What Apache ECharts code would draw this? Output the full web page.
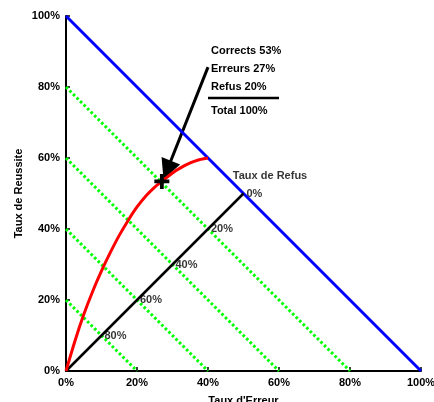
<!DOCTYPE html>
<html><head><meta charset="utf-8">
<script src="https://cdn.jsdelivr.net/npm/echarts@6/dist/echarts.min.js"></script>
<style>html,body{margin:0;padding:0;background:#fff}#c{width:434px;height:402px}</style>
</head><body><div id="c"></div>
<script>
// ---- data ----
var axisTicks = [0, 20, 40, 60, 80, 100];
var limitLine = [[0, 100], [100, 0]];           // Correct + Erreur = 100%
var isoRefus = [20, 40, 60, 80];                 // green dotted iso-lines (x + y = k)
var refusAxis = [[0, 0], [50, 50]];              // "Taux de Refus" axis
var refusTickPos = [[10, 10], [20, 20], [30, 30], [40, 40], [50, 50]];
var refusTickLabels = ['80%', '60%', '40%', '20%', '0%'];
var curveErreur = [0, 2.5, 5, 7.5, 10, 12.5, 15, 17.5, 20, 22.5, 25, 27, 30, 32.5, 35, 37.5, 40];
var curveReussite = [0, 8.4, 15.9, 22.4, 28.2, 33.4, 38.2, 42.4, 46.2, 49.3, 51.8, 53.4, 55.8, 57.35, 58.6, 59.5, 60];
var opPoint = [27, 53.4];
var arrowFrom = [40, 85.6];
var arrowTo = [28.5, 56.6];
var refusTitle = 'Taux de Refus';
var refusTitlePos = [47, 54.9];
var noteLines = ['Corrects 53%', 'Erreurs 27%', 'Refus 20%', 'Total 100%'];

var FONT = "'Liberation Sans', Arial, sans-serif";
var chart = echarts.init(document.getElementById('c'), null, {renderer: 'canvas'});

function lineSeries(data, color, width, type) {
  return {
    type: 'line', data: data, symbol: 'none', silent: true, animation: false,
    lineStyle: {color: color, width: width, type: type || 'solid', cap: 'butt'}
  };
}

var series = [];
isoRefus.forEach(function (k) {
  series.push(lineSeries([[0, k], [k, 0]], '#00ff00', 3, [2.6, 2.4]));
});
series.push(lineSeries(limitLine, '#0000ff', 3));
series.push(lineSeries(refusAxis, '#000000', 2.5));
var curve = curveErreur.map(function (x, i) { return [x, curveReussite[i]]; });
var redS = lineSeries(curve, '#ff0000', 3);
redS.smooth = 0.3;
series.push(redS);
// refus tick labels
series.push({
  type: 'scatter', symbolSize: 0, silent: true, animation: false,
  data: refusTickPos.map(function (p, i) { return {value: p, name: refusTickLabels[i]}; }),
  label: {show: true, position: 'right', distance: 3, formatter: '{b}',
    color: '#000', fontFamily: FONT, fontWeight: 'bold', fontSize: 11}
});
// title of refus axis
series.push({
  type: 'scatter', symbolSize: 0, silent: true, animation: false,
  data: [{value: refusTitlePos, name: refusTitle}],
  label: {show: true, position: 'right', distance: 0, formatter: '{b}',
    color: '#000', fontFamily: FONT, fontWeight: 'bold', fontSize: 11}
});
// arrow
series.push({
  type: 'lines', coordinateSystem: 'cartesian2d', silent: true, animation: false,
  symbol: ['none', 'path://M5,0L10,20L0,20Z'], symbolSize: [9, 20],
  lineStyle: {color: '#000', width: 3, opacity: 1, curveness: 0},
  itemStyle: {color: '#000'},
  data: [{coords: [arrowFrom, arrowTo]}]
});
// operating point
series.push({
  type: 'scatter', silent: true, animation: false, z: 10,
  symbol: 'path://M5.6,0H9.4V5.6H15V9.4H9.4V15H5.6V9.4H0V5.6H5.6Z',
  symbolSize: 15, itemStyle: {color: '#000', opacity: 1},
  data: [opPoint]
});

var noteTops = [45, 63, 81, 105];
var graphics = noteLines.map(function (t, i) {
  return {type: 'text', left: 211, top: noteTops[i], silent: true,
    style: {text: t, fill: '#000', font: 'bold 11px ' + FONT}};
});
graphics.push({type: 'line', silent: true, shape: {x1: 208, y1: 98, x2: 279, y2: 98},
  style: {stroke: '#000', lineWidth: 2.5}});

function axisCommon(name, gap, rot) {
  return {
    type: 'value', min: 0, max: 100, interval: 20,
    name: name, nameLocation: 'middle', nameGap: gap, nameRotate: rot,
    nameTextStyle: {color: '#000', fontFamily: FONT, fontWeight: 'bold', fontSize: 11},
    axisLine: {show: true, onZero: false, lineStyle: {color: '#000', width: 2}},
    axisTick: {show: true, inside: true, length: 4, lineStyle: {color: '#000', width: 1.5}},
    axisLabel: {formatter: '{value}%', color: '#000', fontFamily: FONT, fontWeight: 'bold', fontSize: 11, margin: 6},
    splitLine: {show: false}
  };
}
var yAx = axisCommon('Taux de Reussite', 42, 90);
yAx.nameMoveOverlap = false;

chart.setOption({
  animation: false,
  backgroundColor: '#fff',
  grid: {left: 66, right: 13, top: 16, bottom: 31, containLabel: false, outerBoundsMode: 'none'},
  xAxis: axisCommon("Taux d'Erreur", 24, 0),
  yAxis: yAx,
  series: series,
  graphic: graphics
});
</script>
</body></html>
